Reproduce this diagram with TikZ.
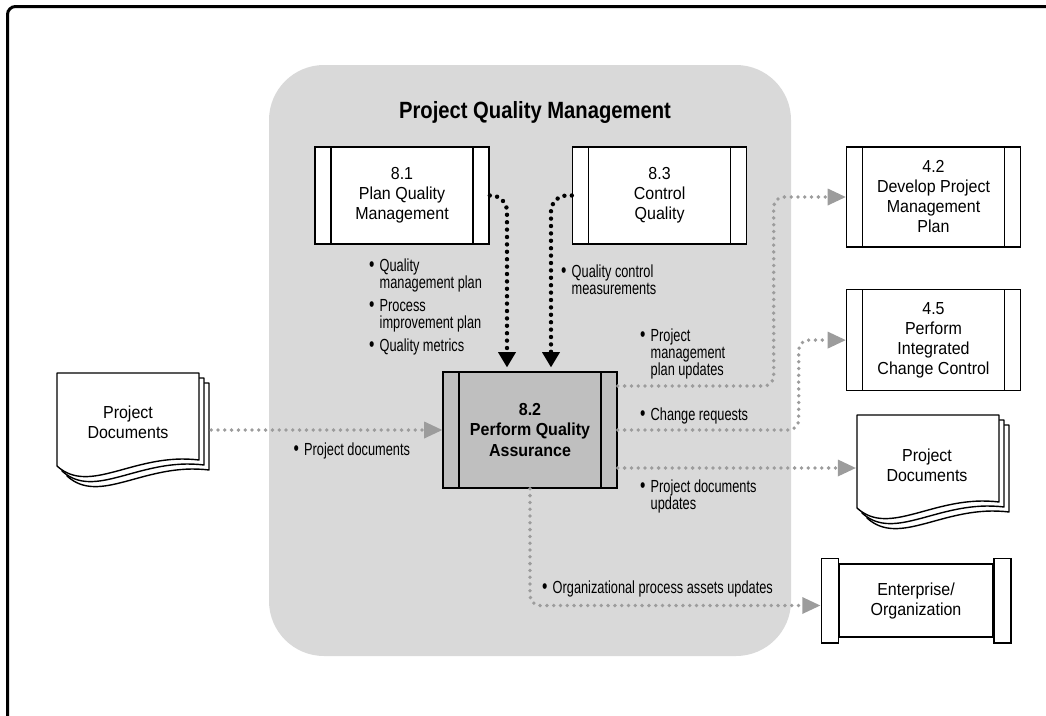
\documentclass[tikz,border=0pt]{standalone}
\usepackage{fontspec}
\setmainfont{Liberation Sans}[FakeStretch=0.92]
\newfontfamily\labfont{Liberation Sans}[FakeStretch=0.73]
\newfontfamily\headfont{Liberation Sans}[FakeStretch=0.86]
\usetikzlibrary{arrows.meta,positioning,calc}
\definecolor{areagray}{HTML}{D9D9D9}
\definecolor{coregray}{HTML}{BFBFBF}
\definecolor{flowgray}{HTML}{9C9C9C}
\newcommand\bul{\makebox[10.5pt][l]{\fontsize{21}{17}\selectfont\textbullet}}
\tikzset{proc/.style={draw,line width=1.6pt,fill=white,align=center,inner sep=0pt,font=\fontsize{17.4}{20}\selectfont,minimum width=174pt,minimum height=97pt,path picture={\draw[line width=1.6pt] ([xshift=16pt]path picture bounding box.north west)--([xshift=16pt]path picture bounding box.south west) ([xshift=-16pt]path picture bounding box.north east)--([xshift=-16pt]path picture bounding box.south east);}}, sheet/.style={draw,line width=1.4pt,fill=white,line join=round}, doctext/.style={align=center,inner sep=0pt,font=\fontsize{17.4}{20}\selectfont,minimum width=142pt,minimum height=93pt}, endbar/.style={draw,line width=1.5pt,fill=white}, lab/.style={anchor=north west,align=left,inner sep=0pt,font=\labfont\fontsize{17.5}{17}\selectfont}, inflow/.style={line width=4.4pt,dash pattern=on 0pt off 7.4pt,line cap=round,rounded corners=16pt,-{Triangle[length=15pt,width=18pt,line width=0pt]}}, outflow/.style={draw=flowgray,line width=3.8pt,dash pattern=on 0pt off 6.8pt,line cap=round,rounded corners=10pt,-{Triangle[length=18pt,width=17pt,line width=0pt]}}}

\begin{document}
\begin{tikzpicture}[x=1pt,y=-1pt]
\useasboundingbox (0,0) rectangle (1046,715);
\clip (0,0) rectangle (1046,715);
\draw[line width=3pt,rounded corners=8pt] (7.5,6.5) rectangle (1080,740);
\fill[areagray,rounded corners=55pt] (269,65) rectangle (791,656);
\node[font=\headfont\bfseries\fontsize{23.5}{28}\selectfont] (ttl) at (535,112) {Project Quality Management};
\node[proc] (p81) at (402,195.5) {8.1\\Plan Quality\\Management};
\node[proc,right=82pt of p81] (p83) {8.3\\Control\\Quality};
\node[proc,fill=coregray,minimum height=116pt,font=\bfseries\fontsize{17.4}{20.5}\selectfont] (p82) at (530,430) {8.2\\Perform Quality\\Assurance};
\node[proc,minimum height=100pt] (p42) at (933.5,197) {4.2\\Develop Project\\Management\\Plan};
\node[proc,minimum height=101pt,below=41pt of p42] (p45) {4.5\\Perform\\Integrated\\Change Control};
\coordinate (dlin) at (57,373);
\coordinate (dlout) at (857,415);
\foreach \d in {dlin,dlout}{\foreach \s in {10,5,0}{
\filldraw[sheet] ($(\d)+(\s,\s)$) -- ++(142,0) -- ++(0,87) .. controls +(-64,-8) and +(33,30) .. ++(-142,6) -- cycle;}}
\node[doctext] (pdin) at ($(dlin)+(71,49)$) {Project\\Documents};
\node[doctext] (pdout) at ($(dlout)+(70,50)$) {Project\\Documents};
\node[draw,line width=1.5pt,fill=white,align=center,inner sep=0pt,font=\fontsize{17.4}{20}\selectfont,minimum width=154pt,minimum height=73pt] (ent) at (916,600.5) {Enterprise/\\Organization};
\draw[endbar] ($(ent.north west)+(-17,-5)$) rectangle ($(ent.south west)+(0,5)$);
\draw[endbar] ($(ent.north east)+(0,-5)$) rectangle ($(ent.south east)+(17,5)$);
\draw[inflow] (p81.east) -| ($(p82.north)+(-23,-4)$);
\draw[inflow] (p83.west) -| ($(p82.north)+(21,-4)$);
\draw[outflow] ($(p82.west -| pdin.east)+(12,0)$) -- (p82.west);
\draw[outflow] ($(p82.east)+(0,-44)$) -| ($(p42.west)+(-72,0)$) -- (p42.west);
\draw[outflow] (p82.east) -| ($(p45.west)+(-47,0)$) -- (p45.west);
\coordinate (pdu) at ($(p82.east)+(0,38)$);
\draw[outflow] (pdu) -- (pdu -| pdout.west);
\draw[outflow] (p82.south) |- ($(ent.west)+(-18,5)$);
\node[lab] (l81) at (369,259) {\bul Quality\\\hphantom{\bul}management plan\\[6pt]\bul Process\\\hphantom{\bul}improvement plan\\[6pt]\bul Quality metrics};
\node[lab] (l83) at (561,264.5) {\bul Quality control\\\hphantom{\bul}measurements};
\node[lab] (lpm) at (640,328.5) {\bul Project\\\hphantom{\bul}management\\\hphantom{\bul}plan updates};
\node[lab] (lcr) at (640,407.5) {\bul Change requests};
\node[lab] (lpd) at (293.5,442.5) {\bul Project documents};
\node[lab] (lpdu) at (640,479.5) {\bul Project documents\\\hphantom{\bul}updates};
\node[lab] (lopa) at (542,580.5) {\bul Organizational process assets updates};
\end{tikzpicture}
\end{document}
